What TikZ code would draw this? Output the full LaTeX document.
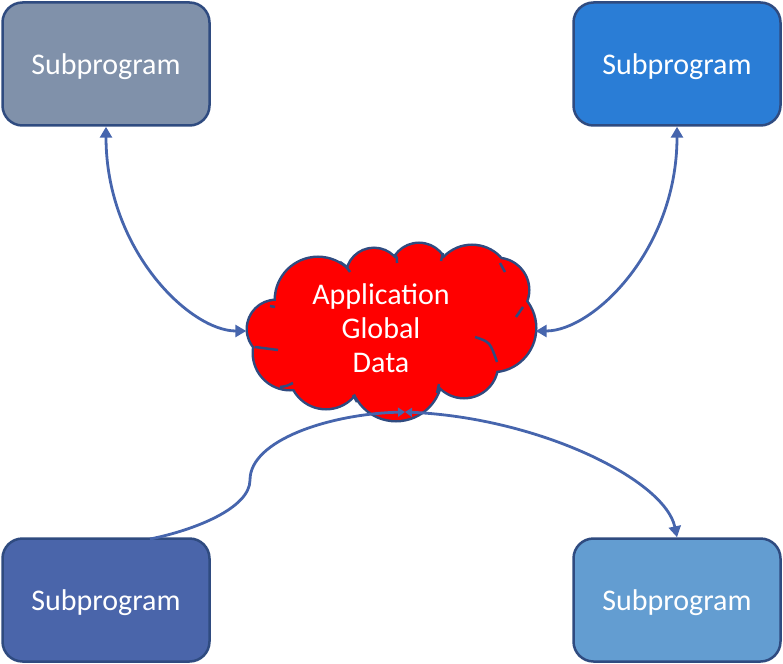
\documentclass[tikz,border=0pt]{standalone}
\usepackage{fontspec}
\setmainfont{Carlito}
\usetikzlibrary{arrows.meta}
\definecolor{edgeblue}{RGB}{47,75,128}
\definecolor{linkblue}{RGB}{70,101,173}
\definecolor{fillTL}{RGB}{128,145,170}
\definecolor{fillTR}{RGB}{42,125,214}
\definecolor{fillBL}{RGB}{74,101,170}
\definecolor{fillBR}{RGB}{99,157,209}
\tikzset{
  subbox/.style={draw=edgeblue, line width=2.5pt, rounded corners=20pt,
    minimum width=207pt, minimum height=123pt, inner sep=0pt, text depth=0pt,
    text=white, font=\fontsize{30}{34}\selectfont},
  link/.style={draw=linkblue, line width=2.8pt},
  innerarc/.style={draw=edgeblue, line width=2.5pt},
}
\newcommand{\puffs}{(318,300) circle (42) (374,276) circle (27) (419,272) circle (28)
  (472,284) circle (38) (497,290) circle (31) (492,328) circle (43)
  (464,364) circle (33) (396,375) circle (45) (326,372) circle (36)
  (290,353) circle (36) (276,329) circle (28)}
\begin{document}
\begin{tikzpicture}[x=1pt,y=-1pt]
\useasboundingbox (0,0) rectangle (783,663);
\node[subbox, fill=fillTL] (tl) at (106,64) {Subprogram};
\node[subbox, fill=fillTR] (tr) at (677,64) {Subprogram};
\node[subbox, fill=fillBL] (bl) at (106,600) {Subprogram};
\node[subbox, fill=fillBR] (br) at (677,600) {Subprogram};
% cloud: union of puffs
\draw[edgeblue, line width=5pt] \puffs;
\fill[red] \puffs;
\fill[red] (391,330) ellipse (115 and 62);
% inner puff strokes
\draw[innerarc] (340,262) .. controls (346,266) .. (350,272);
\draw[innerarc] (395,254) .. controls (397,258) .. (397,263);
\draw[innerarc] (443,253) .. controls (442,257) .. (441,261);
\draw[innerarc] (500,263) .. controls (503,267) .. (505,272);
\draw[innerarc] (523,307) .. controls (520,312) .. (516,317);
\draw[innerarc] (475,337) .. controls (490,342) .. (497,362);
\draw[innerarc] (439,384) .. controls (438,389) .. (437,393);
\draw[innerarc] (353,395) .. controls (355,399) .. (357,402);
\draw[innerarc] (280,387) .. controls (287,386) .. (293,383);
\draw[innerarc] (255,347) .. controls (266,348) .. (278,350);
\draw[innerarc] (270,306) .. controls (272,306) .. (275,307);
\node[minimum width=289pt, minimum height=177pt, inner sep=0pt] (cloud) at (391,331) {};
\node[text=white, align=center, font=\fontsize{30}{34}\selectfont] (label) at (381,328)
  {Application\\Global\\Data};
\coordinate (cb) at (405,412);
\coordinate (bls) at (150,539);
\draw[link, {Triangle[width=12pt,length=11pt]}-{Triangle[width=12pt,length=11pt]}]
  (tl.south) .. controls (106,250) and (190,331) .. (cloud.west);
\draw[link, {Triangle[width=12pt,length=11pt]}-{Triangle[width=12pt,length=11pt]}]
  (tr.south) .. controls (677,250) and (593,331) .. (cloud.east);
\draw[link, -{Triangle[width=9pt,length=7pt]}]
  (bls) .. controls (195,530) and (250,508) .. (250,480)
        .. controls (250,440) and (330,414) .. (cb);
\draw[link, {Triangle[width=9pt,length=7pt]}-{Triangle[width=12pt,length=11pt]}]
  (cb) .. controls (540,418) and (665,480) .. (br.north);
\end{tikzpicture}
\end{document}
